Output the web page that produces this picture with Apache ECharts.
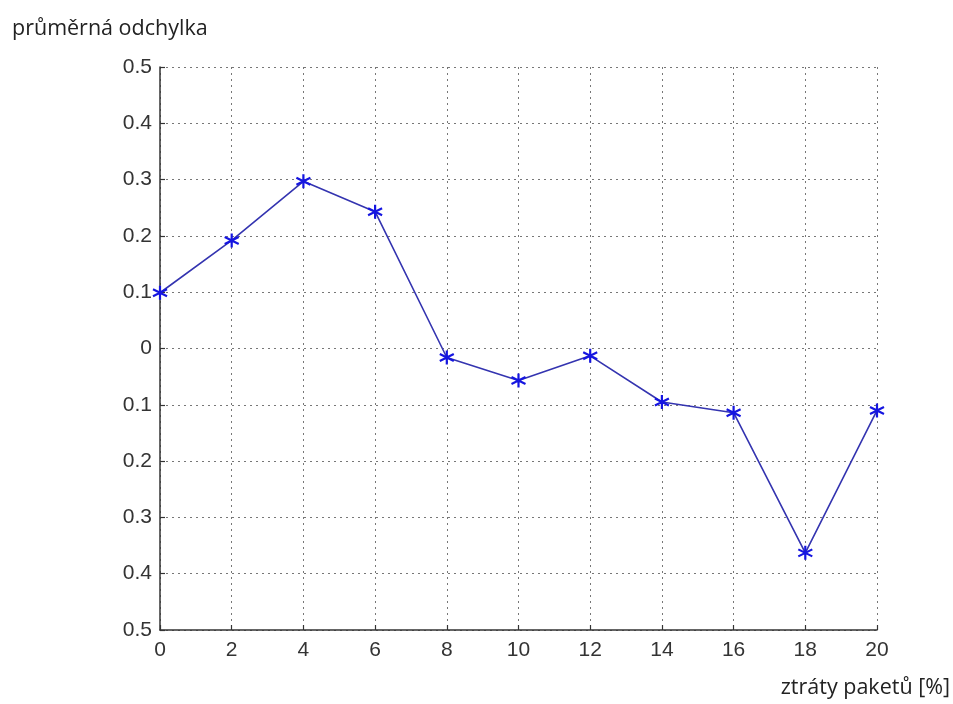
<!DOCTYPE html>
<html>
<head>
<meta charset="utf-8">
<script src="https://cdn.jsdelivr.net/npm/echarts@6/dist/echarts.min.js"></script>
<style>
html,body{margin:0;padding:0;background:#fff;}
#chart{width:953px;height:704px;}
</style>
</head>
<body>
<div id="chart"></div>
<script>
const xValues = [0, 2, 4, 6, 8, 10, 12, 14, 16, 18, 20];
const yValues = [0.099, 0.192, 0.297, 0.243, -0.016, -0.057, -0.013, -0.095, -0.114, -0.363, -0.110];
const yAxisTitle = 'průměrná odchylka';
const xAxisTitle = 'ztráty paketů [%]';

const chart = echarts.init(document.getElementById('chart'), null, {renderer: 'canvas'});
const asterisk = 'path://M0,-6L0,6M-5.2,-3L5.2,3M-5.2,3L5.2,-3';
const tickFont = {fontFamily: 'Liberation Sans', fontSize: 21, color: '#333'};

chart.setOption({
  animation: false,
  backgroundColor: '#fff',
  grid: {left: 160, right: 76, top: 67, bottom: 74, containLabel: false},
  xAxis: {
    type: 'value', min: 0, max: 20, interval: 2,
    axisLine: {show: true, onZero: false, lineStyle: {color: '#333', width: 1.5}},
    axisTick: {show: true, inside: true, length: 5, lineStyle: {color: '#333', width: 1.2}},
    axisLabel: Object.assign({margin: 10}, tickFont),
    splitLine: {show: true, lineStyle: {color: '#777', width: 1, type: [2, 4]}}
  },
  yAxis: {
    type: 'value', min: -0.5, max: 0.5, interval: 0.1,
    axisLine: {show: true, onZero: false, lineStyle: {color: '#333', width: 1.5}},
    axisTick: {show: true, inside: true, length: 5, lineStyle: {color: '#333', width: 1.2}},
    axisLabel: Object.assign({margin: 8, formatter: v => String(Math.abs(+v.toFixed(1)))}, tickFont),
    splitLine: {show: true, lineStyle: {color: '#777', width: 1, type: [2, 4]}}
  },
  series: [{
    type: 'line',
    data: xValues.map((x, i) => [x, yValues[i]]),
    symbol: asterisk,
    symbolSize: 14,
    showAllSymbol: true,
    lineStyle: {color: '#3434b0', width: 1.6},
    itemStyle: {color: '#1515e0', borderColor: '#1515e0', borderWidth: 2.2}
  }],
  graphic: [
    {type: 'text', left: 12, top: 18, style: {text: yAxisTitle, font: '21.5px "Open Sans"', fill: '#222'}},
    {type: 'text', right: 3, top: 677, style: {text: xAxisTitle, font: '21.5px "Open Sans"', fill: '#222'}}
  ]
});
</script>
</body>
</html>
